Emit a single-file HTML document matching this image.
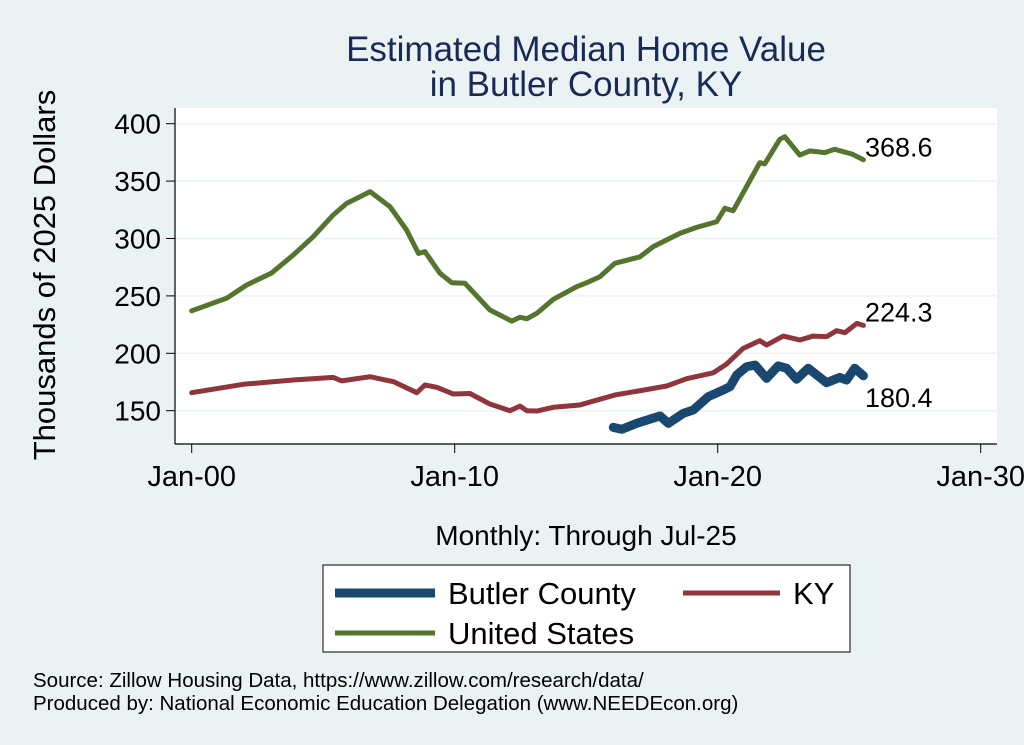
<!DOCTYPE html>
<html><head><meta charset="utf-8"><style>
body{margin:0;background:#eaf2f3;}
svg{display:block;font-family:"Liberation Sans",sans-serif;}
</style></head><body>
<svg width="1024" height="745" viewBox="0 0 1024 745">
<rect x="0" y="0" width="1024" height="745" fill="#eaf2f3"/>
<text x="586" y="61" text-anchor="middle" font-size="35" fill="#1a2a57">Estimated Median Home Value</text>
<text x="586" y="96" text-anchor="middle" font-size="35" fill="#1a2a57">in Butler County, KY</text>
<rect x="175" y="108" width="822" height="336" fill="#fff"/>
<g id="grid"></g>
<g id="axes"></g>
<g id="series"></g>
<text transform="translate(55,275) rotate(-90)" text-anchor="middle" font-size="31" fill="#000">Thousands of 2025 Dollars</text>
<text x="586" y="545" text-anchor="middle" font-size="28" fill="#000">Monthly: Through Jul-25</text>
<g>
<rect x="323" y="565" width="527" height="87" fill="#fff" stroke="#000" stroke-width="1"/>
<line x1="335" y1="593" x2="435" y2="593" stroke="#1a476f" stroke-width="9"/>
<text x="448" y="604" font-size="31">Butler County</text>
<line x1="683" y1="593" x2="780" y2="593" stroke="#90353b" stroke-width="5"/>
<text x="793" y="604" font-size="31">KY</text>
<line x1="335" y1="633" x2="435" y2="633" stroke="#55752f" stroke-width="5"/>
<text x="448" y="644" font-size="31">United States</text>
</g>
<text x="33" y="687" font-size="20.5">Source: Zillow Housing Data, https://www.zillow.com/research/data/</text>
<text x="33" y="710" font-size="20.5">Produced by: National Economic Education Delegation (www.NEEDEcon.org)</text>
</svg>
<script>
const yTicks=[150,200,250,300,350,400];
const xTicks=[0,10,20,30];
const xTickLabels=["Jan-00","Jan-10","Jan-20","Jan-30"];
const usYears=[0,1.33,2.09,3.04,3.86,4.62,5.38,5.89,6.40,6.78,7.54,8.17,8.62,8.87,9.44,9.89,10.39,11.34,12.17,12.48,12.74,13.12,13.75,14.64,15.02,15.52,16.09,17.04,17.55,18.56,19.20,19.96,20.27,20.59,21.60,21.79,22.36,22.55,23.12,23.50,24.07,24.45,25.10,25.54];
const usValues=[237,248,259.5,270,285.6,301.6,320.5,330.6,336.4,340.8,327.7,307.4,287,288.5,269.7,261.5,261,237.7,228,231.4,230,234.8,247,258,261.5,266.7,278.4,284,292.9,304.5,309.7,314.6,326.3,324.2,366,365,386.4,388.7,372.7,376.3,374.8,377.7,373.6,368.6];
const kyYears=[0,1.96,3.86,5.38,5.70,6.78,7.67,8.56,8.87,9.32,9.95,10.58,11.34,12.10,12.48,12.74,13.12,13.75,14.76,16.09,17.04,18.06,18.82,19.83,20.34,20.97,21.60,21.86,22.49,23.12,23.63,24.14,24.52,24.84,25.29,25.54];
const kyValues=[165.7,173,176.7,179,176,179.6,175.3,165.7,172.4,170.4,164.5,165,155.8,150,154,150,149.7,153,155,163.7,167.4,171.5,177.9,183,190.7,204.3,211,207.2,215,211.6,215,214.5,219.7,218,226,224.3];
const butlerYears=[16.03,16.35,16.92,17.81,18.12,18.69,19.07,19.64,20.21,20.47,20.72,21.10,21.42,21.86,22.30,22.62,23.00,23.44,24.14,24.64,24.90,25.21,25.54];
const butlerValues=[135.5,133.8,139,145.4,139,147.7,150.6,162.2,168,171,181,188.3,189.8,178.2,189,187,177.4,187,174.4,179,176.7,187,180.4];
const endLabels=["368.6","224.3","180.4"];
const NS="http://www.w3.org/2000/svg";
function xs(t){return 191.7+t*26.3;}
function ys(v){return 410.7-(v-150)*1.148;}
function mk(tag,attrs,parent){const e=document.createElementNS(NS,tag);for(const k in attrs)e.setAttribute(k,attrs[k]);parent.appendChild(e);return e;}
const grid=document.getElementById('grid'),axes=document.getElementById('axes'),ser=document.getElementById('series');
yTicks.forEach(v=>{
 const g=mk('line',{x1:175,x2:997,y1:ys(v),y2:ys(v),stroke:'#eaf2f3','stroke-width':1.5},grid);
 
 
 const t=mk('line',{x1:166,x2:175,y1:ys(v),y2:ys(v),stroke:'#000','stroke-width':1},axes);
 
 
 const l=mk('text',{x:161,y:ys(v)+10,'text-anchor':'end','font-size':28},axes);
 l.textContent=v;
 
 
});
xTicks.forEach((t,i)=>{
 const tk=mk('line',{x1:xs(t),x2:xs(t),y1:444,y2:453,stroke:'#000','stroke-width':1},axes);
 
 
 const l=mk('text',{x:xs(t),y:486,'text-anchor':'middle','font-size':29},axes);
 l.textContent=xTickLabels[i];
 
 
});
const ya=mk('line',{x1:175,x2:175,y1:108,y2:444,stroke:'#000','stroke-width':1.2},axes);


const xa=mk('line',{x1:175,x2:997,y1:444,y2:444,stroke:'#000','stroke-width':1.2},axes);


function line(yrs,vals,color,w,name){
 const p=mk('polyline',{points:yrs.map((t,i)=>xs(t)+','+ys(vals[i])).join(' '),fill:'none',stroke:color,'stroke-width':w,'stroke-linejoin':'round','stroke-linecap':'round'},ser);
 
 
}
line(usYears,usValues,'#55752f',5,'us-line');
line(kyYears,kyValues,'#90353b',5,'ky-line');
line(butlerYears,butlerValues,'#1a476f',9,'butler-line');
const lastUS=usValues[usValues.length-1],lastKY=kyValues[kyValues.length-1],lastB=butlerValues[butlerValues.length-1];
const endY=[ys(lastUS)-13,ys(lastKY)-14,ys(lastB)+21];
endLabels.forEach((s,i)=>{
 const t=mk('text',{x:865,y:endY[i]+10,'font-size':27},ser);
 t.textContent=s;
 
 
});
</script>
</body></html>
